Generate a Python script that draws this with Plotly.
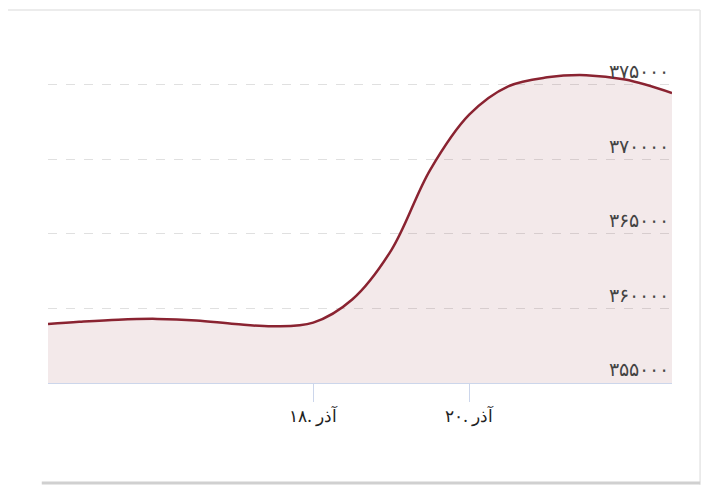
import plotly.graph_objects as go

days = [14.6, 15, 15.5, 16, 16.5, 17, 17.5, 18, 18.5, 19, 19.5, 20, 20.5, 21, 21.5, 22, 22.6]
price = [358950, 359100, 359250, 359300, 359200, 358950, 358800, 359050, 360600, 363900, 369300, 373000, 374900, 375500, 375650, 375350, 374450]

tick_days = [18, 20]
tick_text = ["۱۸. آذر", "۲۰. آذر"]
y_ticks = [355000, 360000, 365000, 370000, 375000]
y_text = ["۳۵۵۰۰۰", "۳۶۰۰۰۰", "۳۶۵۰۰۰", "۳۷۰۰۰۰", "۳۷۵۰۰۰"]

fig = go.Figure()
fig.add_trace(go.Scatter(
    x=days, y=price, mode="lines",
    line=dict(color="#8a2331", width=2.5, shape="spline", smoothing=1.0),
    fill="tozeroy", fillcolor="rgba(138,35,49,0.1)",
))

fig.update_layout(
    width=720, height=486,
    margin=dict(l=40, r=56, t=47, b=111, autoexpand=False),
    paper_bgcolor="white", plot_bgcolor="white",
    showlegend=False,
    font=dict(family="Noto Sans", color="#222", size=17),
    xaxis=dict(range=[14.6, 22.6], tickvals=tick_days, ticktext=tick_text,
               showgrid=False, showline=True, linecolor="#ccd6eb",
               ticks="outside", ticklen=18, tickcolor="#ccd6eb", zeroline=False),
    yaxis=dict(range=[355000, 377000], tickvals=y_ticks, ticktext=y_text,
               side="right", ticklabelposition="inside top",
               gridcolor="#e0e0e0", griddash="dash", zeroline=False,
               tickfont=dict(size=19)),
    shapes=[
        dict(type="line", xref="paper", yref="paper", x0=-0.08, x1=1.045, y0=1.137, y1=1.137,
             line=dict(color="#e6e6e6", width=1.5)),
        dict(type="line", xref="paper", yref="paper", x0=1.045, x1=1.045, y0=1.137, y1=-0.31,
             line=dict(color="#e6e6e6", width=1.5)),
        dict(type="line", xref="paper", yref="paper", x0=-0.01, x1=1.045, y0=-0.305, y1=-0.305,
             line=dict(color="#d0d0d0", width=3)),
    ],
)

fig.write_html("out.html")
